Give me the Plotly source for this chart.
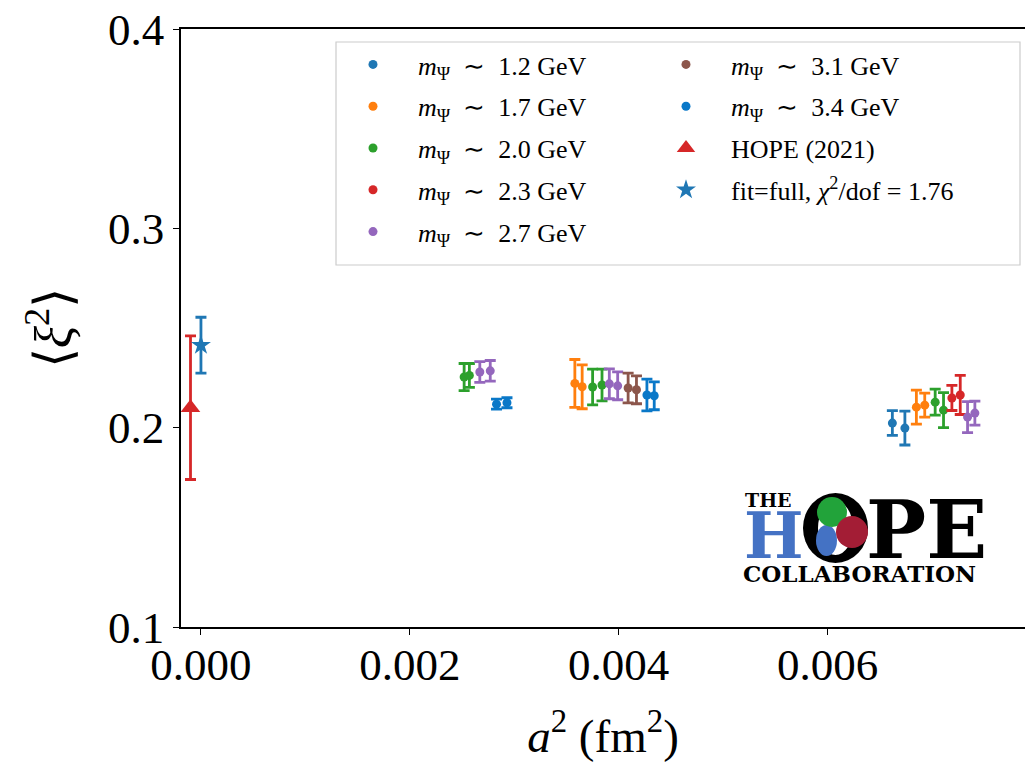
import plotly.graph_objects as go

# ---------------- data ----------------
m12_x = [0.00662, 0.00674]
m12_y = [0.2023, 0.1998]
m12_e = [0.0062, 0.0085]

m17_x = [0.00358, 0.00365, 0.00685, 0.00693]
m17_y = [0.2222, 0.2205, 0.2103, 0.2113]
m17_e = [0.0120, 0.0110, 0.0085, 0.0060]

m20_x = [0.00252, 0.00257, 0.00375, 0.00384, 0.00703, 0.00711]
m20_y = [0.2254, 0.2262, 0.2204, 0.2214, 0.2128, 0.2088]
m20_e = [0.0068, 0.0060, 0.0090, 0.0080, 0.0065, 0.0088]

m23_x = [0.00719, 0.00727]
m23_y = [0.2149, 0.2164]
m23_e = [0.0063, 0.0098]

m27_x = [0.00267, 0.00277, 0.00391, 0.00399, 0.00734, 0.00741]
m27_y = [0.2279, 0.2285, 0.2220, 0.2210, 0.2053, 0.2073]
m27_e = [0.0052, 0.0052, 0.0075, 0.0070, 0.0078, 0.0060]

m31_x = [0.00409, 0.00417]
m31_y = [0.2199, 0.2190]
m31_e = [0.0075, 0.0070]

m34_x = [0.00283, 0.00293, 0.00427, 0.00434]
m34_y = [0.2118, 0.2125, 0.2164, 0.2160]
m34_e = [0.0025, 0.0025, 0.0080, 0.0070]

hope_x = [-0.0001]
hope_y = [0.2100]
hope_e = [0.0360]

fit_x = [0.0]
fit_y = [0.2414]
fit_e = [0.0140]

labels = [
    "<i>m</i><sub>Ψ</sub>  ∼  1.2 GeV",
    "<i>m</i><sub>Ψ</sub>  ∼  1.7 GeV",
    "<i>m</i><sub>Ψ</sub>  ∼  2.0 GeV",
    "<i>m</i><sub>Ψ</sub>  ∼  2.3 GeV",
    "<i>m</i><sub>Ψ</sub>  ∼  2.7 GeV",
    "<i>m</i><sub>Ψ</sub>  ∼  3.1 GeV",
    "<i>m</i><sub>Ψ</sub>  ∼  3.4 GeV",
    "HOPE (2021)",
    "fit=full, <i>χ</i><sup>2</sup>/dof = 1.76",
]
colors = ["#1f77b4", "#ff7f0e", "#2ca02c", "#d62728", "#9467bd",
          "#8c564b", "#0a78c8", "#d62728", "#1f77b4"]

y_ticks = [0.1, 0.2, 0.3, 0.4]
x_ticks = [0.000, 0.002, 0.004, 0.006]

# ---------------- layout geometry ----------------
W, H = 1025, 765
PL, PR, PT, PB = 181, 1025, 29, 627
FONT = "Liberation Serif"


def fx(px):
    return (px - PL) / (PR - PL)


def fy(py):
    return (PB - py) / (PB - PT)


fig = go.Figure()

series = [
    (m12_x, m12_y, m12_e, 0, "circle", 9, "legend"),
    (m17_x, m17_y, m17_e, 1, "circle", 9, "legend"),
    (m20_x, m20_y, m20_e, 2, "circle", 9, "legend"),
    (m23_x, m23_y, m23_e, 3, "circle", 9, "legend"),
    (m27_x, m27_y, m27_e, 4, "circle", 9, "legend"),
    (m31_x, m31_y, m31_e, 5, "circle", 9, "legend2"),
    (m34_x, m34_y, m34_e, 6, "circle", 9, "legend2"),
    (hope_x, hope_y, hope_e, 7, "triangle-up", 17, "legend2"),
    (fit_x, fit_y, fit_e, 8, "star", 15, "legend2"),
]

for i, (xs, ys, es, ci, sym, size, lg) in enumerate(series):
    fig.add_trace(go.Scatter(
        x=xs, y=ys, mode="markers", name=labels[ci],
        marker=dict(color=colors[ci], symbol=sym, size=size, line=dict(width=0)),
        error_y=dict(type="data", array=es, visible=True, color=colors[ci],
                     thickness=2.8, width=5.5),
        legend=lg, legendgroup="g%d" % i,
    ))

legend_common = dict(
    font=dict(family=FONT, size=26, color="black"),
    bgcolor="rgba(0,0,0,0)", borderwidth=0,
    xanchor="left", yanchor="top",
    traceorder="grouped", tracegroupgap=5, itemwidth=80,
)

# legend frame (box like matplotlib)
fig.add_shape(type="rect", xref="paper", yref="paper",
              x0=fx(336), x1=fx(1020), y0=fy(265), y1=fy(42),
              line=dict(color="#cccccc", width=1.2),
              fillcolor="rgba(255,255,255,0.8)", layer="above")

# ---------------- logo ----------------
def ann(text, px, py, size, color="black", bold=True, xanchor="left", yanchor="top", family="DejaVu Serif"):
    fig.add_annotation(
        xref="paper", yref="paper", x=fx(px), y=fy(py), text=("<b>%s</b>" % text) if bold else text,
        showarrow=False, xanchor=xanchor, yanchor=yanchor,
        font=dict(family=family, size=size, color=color),
    )

ann("THE", 743, 487, 19)
ann("H", 742, 497, 63, color="#4472c4")
ann("PE", 864, 481, 80)
ann("COLLABORATION", 741, 558, 23)

# The "O" ring with coloured blobs
fig.add_shape(type="circle", xref="paper", yref="paper",
              x0=fx(803), x1=fx(868), y0=fy(563), y1=fy(493),
              fillcolor="black", line=dict(width=0), layer="above")
fig.add_shape(type="circle", xref="paper", yref="paper",
              x0=fx(818), x1=fx(853), y0=fy(555), y1=fy(501),
              fillcolor="white", line=dict(width=0), layer="above")
fig.add_shape(type="circle", xref="paper", yref="paper",
              x0=fx(816), x1=fx(837), y0=fy(556), y1=fy(525),
              fillcolor="#4472c4", line=dict(width=0), layer="above")
fig.add_shape(type="circle", xref="paper", yref="paper",
              x0=fx(817), x1=fx(847), y0=fy(527), y1=fy(497),
              fillcolor="#22a33a", line=dict(width=0), layer="above")
fig.add_shape(type="circle", xref="paper", yref="paper",
              x0=fx(836), x1=fx(868), y0=fy(548), y1=fy(516),
              fillcolor="#a31d35", line=dict(width=0), layer="above")

fig.update_layout(
    width=W, height=H,
    margin=dict(l=PL, r=W - PR, t=PT, b=H - PB, pad=0),
    paper_bgcolor="white", plot_bgcolor="white",
    font=dict(family=FONT, color="black"),
    legend=dict(x=fx(328), y=fy(41), **legend_common),
    legend2=dict(x=fx(641), y=fy(41), **legend_common),
    xaxis=dict(
        range=[-0.000191, 0.00789], tickvals=x_ticks,
        ticktext=["%.3f" % v for v in x_ticks],
        showgrid=False, zeroline=False, showline=True, linecolor="black", linewidth=1.5,
        mirror=True, ticks="outside", ticklen=6, tickwidth=1.3, tickcolor="black",
        ticklabelstandoff=-9,
        tickfont=dict(family=FONT, size=45, color="black"),
        title=dict(text="<i>a</i><sup>2</sup> (fm<sup>2</sup>)",
                   font=dict(family=FONT, size=47, color="black"), standoff=30),
    ),
    yaxis=dict(
        range=[0.1, 0.4], tickvals=y_ticks, ticktext=["%.1f" % v for v in y_ticks],
        showgrid=False, zeroline=False, showline=True, linecolor="black", linewidth=1.5,
        mirror=False, ticks="outside", ticklen=6, tickwidth=1.3, tickcolor="black",
        tickfont=dict(family=FONT, size=45, color="black"),
        title=dict(text="⟨<i>ξ</i><sup>2</sup>⟩",
                   font=dict(family=FONT, size=52, color="black"), standoff=20),
    ),
)

fig.write_html("out.html")
